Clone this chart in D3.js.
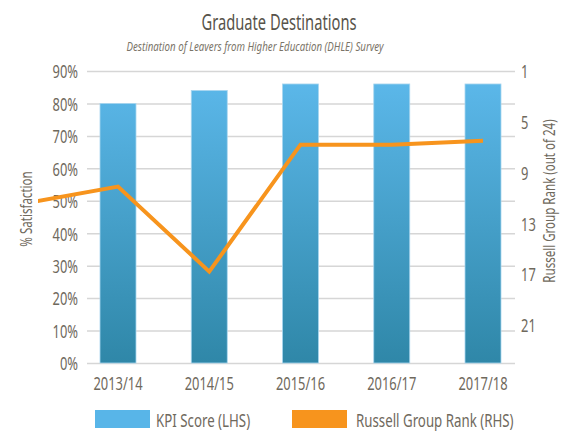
<!DOCTYPE html>
<html>
<head>
<meta charset="utf-8">
<script src="https://cdn.jsdelivr.net/npm/d3@7"></script>
<style>
  body { margin: 0; background: #fff; }
  svg text { font-family: "Noto Sans", "Open Sans", sans-serif; fill: #6f695d; }
</style>
</head>
<body>
<svg id="chart" width="561" height="434"></svg>
<script>
// data
var years = ['2013/14', '2014/15', '2015/16', '2016/17', '2017/18'];
var kpiScore = [0.80, 0.84, 0.86, 0.86, 0.86];
var groupRank = [10.1, 16.8, 6.8, 6.8, 6.5];
var priorRank = 11.4; // 2012/13, only the tail of it shows at the left edge
var pctTicks = d3.range(0, 0.91, 0.1);
var rankTicks = [1, 5, 9, 13, 17, 21];

var svg = d3.select('#chart');
var plot = { left: 87, right: 515, top: 71, bottom: 363 };

// squeeze text horizontally, the original uses a condensed face
function condense(sel, k) {
  sel.each(function() {
    var t = d3.select(this);
    var tx = +t.attr('x') || 0, ty = +t.attr('y') || 0;
    var base = t.attr('transform') || '';
    t.attr('x', 0).attr('y', 0)
      .attr('transform', base + ' translate(' + tx + ',' + ty + ') scale(' + k + ',1)');
  });
}

var x = d3.scalePoint().domain(years).range([118, 483]);
var step = x.step();
var barW = 36;
var y = d3.scaleLinear().domain([0, 0.9]).range([plot.bottom, plot.top]);
var yR = d3.scaleLinear().domain([1, 24]).range([plot.top, plot.bottom]);

// bar gradient
var defs = svg.append('defs');
var grad = defs.append('linearGradient').attr('id', 'barGrad')
  .attr('gradientUnits', 'userSpaceOnUse')
  .attr('x1', 0).attr('x2', 0).attr('y1', y(0.86)).attr('y2', plot.bottom);
grad.append('stop').attr('offset', '0%').attr('stop-color', '#5bb7e9');
grad.append('stop').attr('offset', '100%').attr('stop-color', '#2f87a8');
defs.append('clipPath').attr('id', 'lineClip')
  .append('rect').attr('x', 38).attr('y', 0).attr('width', 561 - 38).attr('height', 434);

// titles
svg.append('text').attr('x', 279).attr('y', 30).attr('text-anchor', 'middle')
  .style('font-size', '21px').style('fill', '#57534a').text('Graduate Destinations')
  .call(condense, 0.7);
svg.append('text').attr('x', 255).attr('y', 51).attr('text-anchor', 'middle')
  .style('font-size', '13.5px').style('font-style', 'italic').style('fill', '#7a7468')
  .text('Destination of Leavers from Higher Education (DHLE) Survey')
  .call(condense, 0.72);

// gridlines
var grid = svg.append('g').attr('transform', 'translate(' + plot.left + ',0)')
  .call(d3.axisRight(y).tickValues(pctTicks).tickSize(plot.right - plot.left).tickFormat(''));
grid.select('.domain').remove();
grid.selectAll('line').attr('stroke', '#d6d6d6').attr('stroke-width', 1.5);

// left axis labels
var yAxis = svg.append('g').attr('transform', 'translate(' + plot.left + ',0)')
  .call(d3.axisLeft(y).tickValues(pctTicks).tickSize(0).tickPadding(9).tickFormat(d3.format('.0%')));
yAxis.select('.domain').remove();
yAxis.selectAll('text').style('font-size', '19px').style('fill', '#6f695d').attr('dy', '0.36em')
  .call(condense, 0.68);

// right axis labels
var rAxis = svg.append('g').attr('transform', 'translate(' + plot.right + ',0)')
  .call(d3.axisRight(yR).tickValues(rankTicks).tickSize(0).tickPadding(6));
rAxis.select('.domain').remove();
rAxis.selectAll('text').style('font-size', '19px').style('fill', '#6f695d').attr('dy', '0.36em')
  .call(condense, 0.68);

// bars
svg.append('g').selectAll('rect')
  .data(kpiScore)
  .join('rect')
  .attr('x', function(d, i) { return x(years[i]) - barW / 2; })
  .attr('y', function(d) { return y(d); })
  .attr('width', barW)
  .attr('height', function(d) { return plot.bottom - y(d); })
  .attr('fill', 'url(#barGrad)')
  .attr('stroke', '#a9d6ef').attr('stroke-width', 0.8);

// x labels
svg.append('g').selectAll('text')
  .data(years)
  .join('text')
  .attr('x', function(d) { return x(d); })
  .attr('y', 390)
  .attr('text-anchor', 'middle')
  .style('font-size', '19px')
  .text(function(d) { return d; })
  .call(condense, 0.68);

// rank line
var pts = [[x(years[0]) - step, yR(priorRank)]];
groupRank.forEach(function(r, i) { pts.push([x(years[i]), yR(r)]); });
svg.append('path')
  .attr('clip-path', 'url(#lineClip)')
  .attr('d', d3.line()(pts))
  .attr('fill', 'none')
  .attr('stroke', '#f7941d')
  .attr('stroke-width', 4)
  .attr('stroke-linejoin', 'miter');

// axis titles
svg.append('text').attr('transform', 'translate(32,209) rotate(-90)')
  .attr('text-anchor', 'middle').style('font-size', '17px').text('% Satisfaction')
  .call(condense, 0.68);
svg.append('text').attr('transform', 'translate(555,201) rotate(-90)')
  .attr('text-anchor', 'middle').style('font-size', '17px').text('Russell Group Rank (out of 24)')
  .call(condense, 0.68);

// legend
var legend = [
  { label: 'KPI Score (LHS)', color: '#58b5e8', x: 95, tx: 156 },
  { label: 'Russell Group Rank (RHS)', color: '#f7941d', x: 292, tx: 356 }
];
var lg = svg.append('g').selectAll('g').data(legend).join('g');
lg.append('rect').attr('x', function(d) { return d.x; }).attr('y', 410)
  .attr('width', 55).attr('height', 18).attr('fill', function(d) { return d.color; });
lg.append('text').attr('x', function(d) { return d.tx; }).attr('y', 427)
  .style('font-size', '19px').text(function(d) { return d.label; })
  .call(condense, 0.7);
</script>
</body>
</html>
